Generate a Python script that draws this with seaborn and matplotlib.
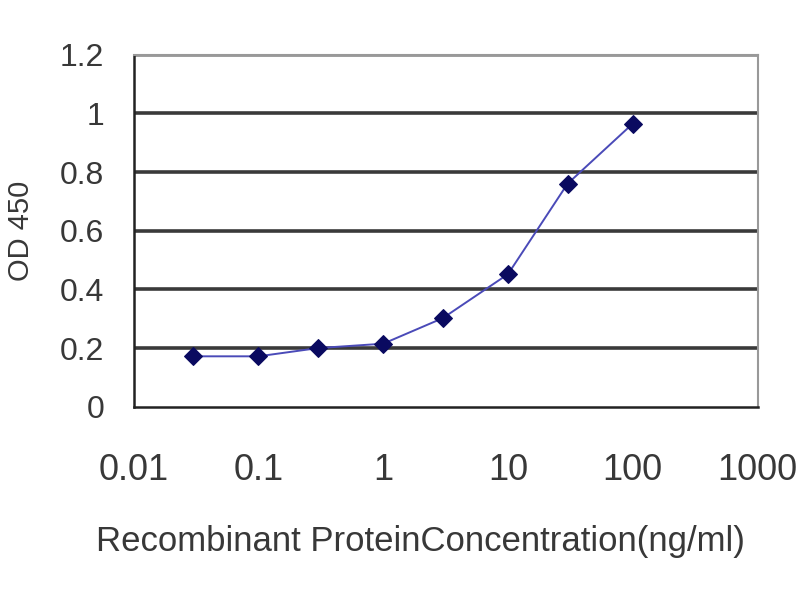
import numpy as np
import pandas as pd
import matplotlib
matplotlib.use("Agg")
import matplotlib.pyplot as plt
import seaborn as sns

# data
conc = [0.03, 0.1, 0.3, 1, 3, 10, 30, 100]
od450 = [0.172, 0.172, 0.200, 0.215, 0.302, 0.452, 0.760, 0.965]
x_ticks = [0.01, 0.1, 1, 10, 100, 1000]
x_labels = ["0.01", "0.1", "1", "10", "100", "1000"]
y_ticks = [0, 0.2, 0.4, 0.6, 0.8, 1.0, 1.2]
y_labels = ["0", "0.2", "0.4", "0.6", "0.8", "1", "1.2"]

df = pd.DataFrame({"conc": conc, "od": od450})

sns.set_style("white")
plt.rcParams['font.family'] = ['Liberation Sans', 'DejaVu Sans']

fig = plt.figure(figsize=(8, 6), dpi=100)
ax = fig.add_axes([0.167, 0.322, 0.78, 0.587])

# gridlines
for yv in y_ticks[1:]:
    ax.axhline(yv, color="#3a3a3a" if yv < 1.2 else "#8a8a8a", lw=2.6, zorder=1)

sns.lineplot(data=df, x="conc", y="od", ax=ax, color="#4a4ab8", lw=1.4,
             marker="D", markersize=9, markerfacecolor="#0a0a60",
             markeredgecolor="#0a0a60", zorder=3)

ax.set_xscale("log")
ax.set_xlim(0.01, 1000)
ax.set_ylim(0, 1.2)
ax.set_xticks(x_ticks)
ax.set_xticklabels(x_labels, fontsize=26, color="#383838")
ax.set_yticks(y_ticks)
ax.set_yticklabels(y_labels, fontsize=23, color="#383838")
ax.minorticks_off()
ax.tick_params(axis="x", direction="in", length=8, width=1.2, pad=33, colors="#333333")
ax.tick_params(axis="y", direction="out", length=4, width=1.2, pad=17, colors="#333333")
for lbl in ax.get_xticklabels() + ax.get_yticklabels():
    lbl.set_color("#383838")

ax.set_xlabel("Recombinant ProteinConcentration(ng/ml)", fontsize=25,
              color="#383838")
ax.xaxis.set_label_coords(0.46, -0.335)
ax.set_ylabel("OD 450", fontsize=21, color="#383838", labelpad=18)

for side in ["left", "bottom"]:
    ax.spines[side].set_color("#222222")
    ax.spines[side].set_linewidth(1.8)
for side in ["top", "right"]:
    ax.spines[side].set_color("#999999")
    ax.spines[side].set_linewidth(1.5)

plt.savefig("out.png", dpi=100)
